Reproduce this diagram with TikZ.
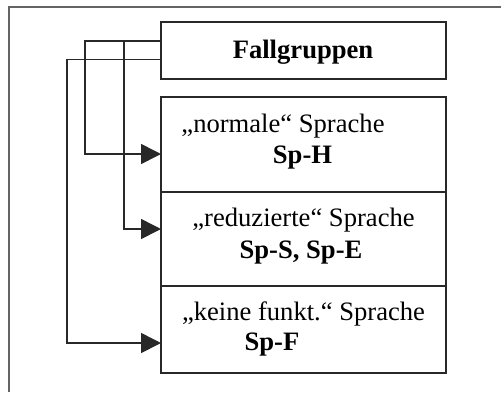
\documentclass[tikz,border=0pt]{standalone}
\usepackage{fontspec}
\setmainfont{Liberation Serif}
\usetikzlibrary{
    positioning,
    arrows.meta,
    calc
}
\definecolor{FrameGray}{RGB}{100,100,100}
\definecolor{BoxInk}{RGB}{40,40,40}
\tikzset{
    frameline/.style={line width=0.8pt, draw=FrameGray},
    casebox/.style={draw=BoxInk, line width=0.9pt, rectangle, inner sep=0pt, outer sep=0pt, minimum width=142.5pt},
    caseline/.style={font=\fontsize{13.3}{16}\selectfont, text=black, inner sep=0pt, anchor=base},
    casecode/.style={caseline, font=\fontsize{13.3}{16}\selectfont\bfseries},
    feed/.style={-{Triangle[length=10pt,width=10pt]}, line width=0.8pt, draw=BoxInk}
}
\begin{document}
\begin{tikzpicture}[x=0.5pt, y=-0.5pt]
    \useasboundingbox (0,0) rectangle (501,392);
    % outer frame, cut by the page
    \coordinate (FrameBL) at (9,392);
    \coordinate (FrameTL) at (9,7);
    \coordinate (FrameTR) at (501,7);
    \draw[frameline] (FrameBL) -- (FrameTL) -- (FrameTR);
    % boxes
    \node[casebox, minimum height=28.5pt, anchor=north west] (fall) at (161,22) {};
    \node[casebox, minimum height=47.5pt] (normal) [below=9pt of fall] {};
    \node[casebox, minimum height=47pt] (reduz) [below=0pt of normal] {};
    \node[casebox, minimum height=43.5pt] (keine) [below=0pt of reduz] {};
    % texts
    \node[casecode] (fallT) at ($(fall.north)+(-0.5,36)$) {Fallgruppen};
    \node[caseline] (normalT) at ($(normal.north)+(-20.5,35.3)$) {„normale“ Sprache};
    \node[casecode] (normalC) at ($(normal.north)+(-1,66.3)$) {Sp-H};
    \node[caseline] (reduzT) at ($(reduz.north)+(0,34.7)$) {„reduzierte“ Sprache};
    \node[casecode] (reduzC) at ($(reduz.north)+(-2.5,66.3)$) {Sp-S, Sp-E};
    \node[caseline] (keineT) at ($(keine.north)+(0,34.7)$) {„keine funkt.“ Sprache};
    \node[casecode] (keineC) at ($(keine.north)+(-31.5,64.7)$) {Sp-F};
    % connectors
    \coordinate (split) at ($(fall.north west)+(-37,18.7)$);
    \draw[feed] ($(fall.north west)+(0,18.7)$) -- ++(-76,0) |- ($(normal.north west)+(0,57)$);
    \draw[feed] (split) |- ($(reduz.north west)+(0,37)$);
    \draw[feed] ($(fall.north west)+(0,37.3)$) -- ++(-94,0) |- ($(keine.north west)+(0,57)$);
\end{tikzpicture}
\end{document}
